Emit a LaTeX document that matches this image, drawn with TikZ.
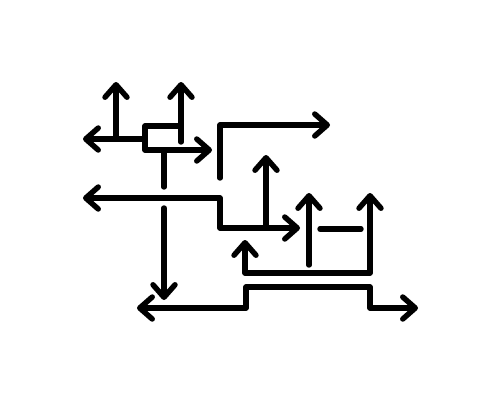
\documentclass[tikz,border=0pt]{standalone}
\usetikzlibrary{arrows.meta}
\begin{document}
\begin{tikzpicture}[x=0.02cm,y=-0.02cm,line width=3.1pt,line cap=round,line join=round,
    tip/.tip={Straight Barb[length=2.5mm,width=4.4mm,round]},
    flow/.style={-tip},
    twoway/.style={tip-tip}]
    \useasboundingbox (0,0) rectangle (500,400);
    % box with its branches
    \draw [flow] (181,126) -- (145,126) -- (145,150) -- (212,150);
    \draw [flow] (181,142) -- (181,82);
    \draw [flow] (145,139) -- (83,139);
    \draw [flow] (116,139) -- (116,82);
    \draw (164,150) -- (164,187);
    \draw [flow] (164,208) -- (164,300);
    % middle branches
    \draw [twoway] (83,198) -- (220,198) -- (220,228) -- (300,228);
    \draw [flow] (220,178) -- (220,125) -- (330,125);
    \draw [flow] (266,228) -- (266,155);
    \draw [flow] (309,265) -- (309,193);
    \draw (320,229) -- (361,229);
    \draw [twoway] (245,240) -- (245,273) -- (370,273) -- (370,193);
    % bottom line
    \draw [twoway] (137,308) -- (246,308) -- (246,287) -- (370,287) -- (370,308) -- (418,308);
\end{tikzpicture}
\end{document}
